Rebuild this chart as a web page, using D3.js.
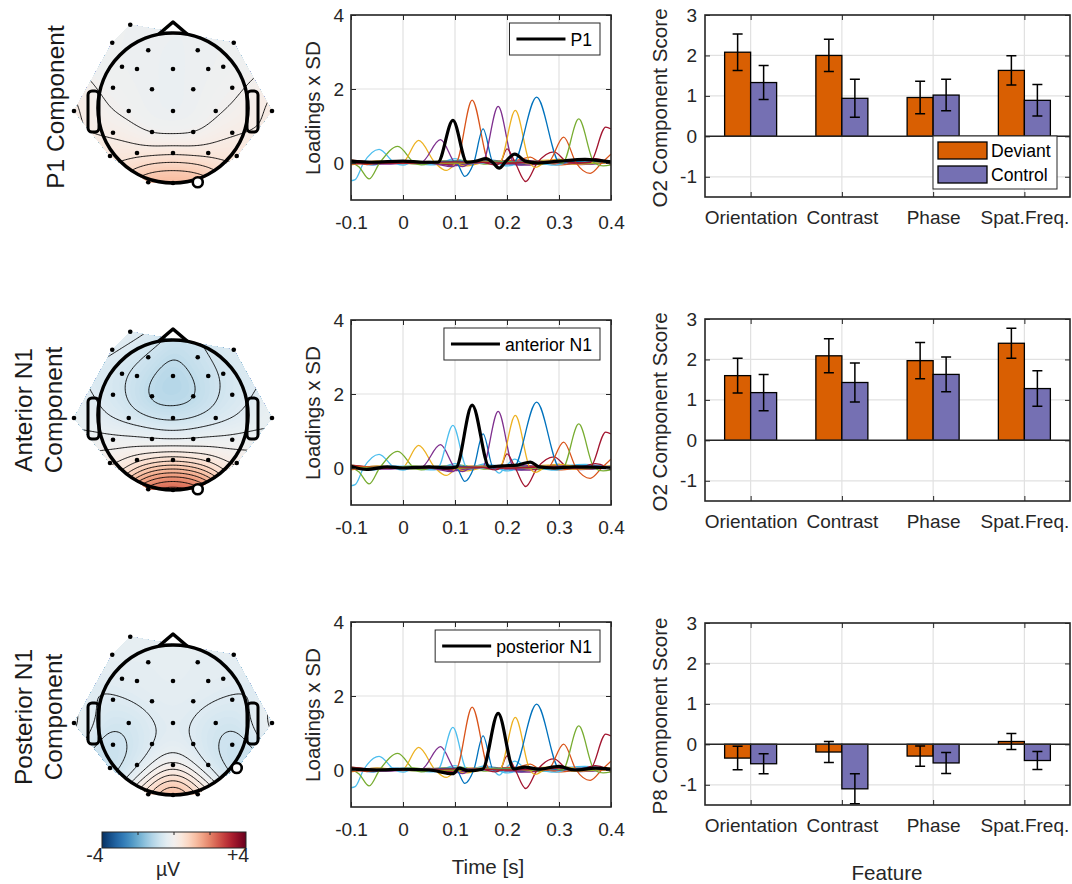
<!DOCTYPE html>
<html>
<head>
<meta charset="utf-8">
<script src="https://cdn.jsdelivr.net/npm/d3@7"></script>
<style>
  body { margin: 0; background: #fff; }
  svg { font-family: "Liberation Sans", Arial, Helvetica, sans-serif; }
</style>
</head>
<body>
<svg id="chart" width="1072" height="884"></svg>
<script>
// ---- axis ticks / labels ----
const timeTicks = [-0.1, 0, 0.1, 0.2, 0.3, 0.4];
const loadingTicks = [0, 2, 4];
const scoreTicks = [-1, 0, 1, 2, 3];
const features = ["Orientation", "Contrast", "Phase", "Spat.Freq."];
const conditions = ["Deviant", "Control"];
const rowTitles = [["P1 Component"], ["Anterior N1", "Component"], ["Posterior N1", "Component"]];
const legendNames = ["P1", "anterior N1", "posterior N1"];
const scoreLabels = ["O2 Component Score", "O2 Component Score", "P8 Component Score"];

// ---- component scores (mean, sem) ----
const devP1 = [2.08, 2.0, 0.96, 1.63];
const devP1Err = [0.45, 0.4, 0.4, 0.36];
const ctlP1 = [1.33, 0.94, 1.02, 0.89];
const ctlP1Err = [0.42, 0.47, 0.39, 0.39];
const devAntN1 = [1.6, 2.09, 1.97, 2.4];
const devAntN1Err = [0.43, 0.42, 0.45, 0.37];
const ctlAntN1 = [1.18, 1.43, 1.63, 1.28];
const ctlAntN1Err = [0.45, 0.48, 0.43, 0.44];
const devPostN1 = [-0.34, -0.19, -0.29, 0.07];
const devPostN1Err = [0.29, 0.26, 0.25, 0.2];
const ctlPostN1 = [-0.48, -1.1, -0.46, -0.4];
const ctlPostN1Err = [0.25, 0.37, 0.26, 0.22];

// ---- temporal loadings [time s, loading x SD] ----
const compCyan1 = [[-0.1,-0.48],[-0.092,-0.45],[-0.076,0],[-0.046,0.37],[-0.016,0],[0,-0.06],[0.02,0.02],[0.06,0],[0.1,0.05],[0.12,0.02],[0.16,0],[0.2,-0.03],[0.25,0.02],[0.3,0],[0.35,0.03],[0.4,0.02]];
const compGreen1 = [[-0.1,0.02],[-0.085,-0.1],[-0.065,-0.43],[-0.045,0],[-0.01,0.45],[0.022,0],[0.035,-0.05],[0.06,0.02],[0.1,0.05],[0.15,0.02],[0.2,0.05],[0.25,0.02],[0.3,0.04],[0.35,0],[0.4,0.02]];
const compYellow1 = [[-0.1,-0.05],[-0.06,0.02],[-0.002,0],[0.03,0.61],[0.062,0],[0.083,-0.2],[0.105,0],[0.13,0.05],[0.17,0.02],[0.2,0.05],[0.25,0],[0.3,0.05],[0.35,0.02],[0.4,0.05]];
const compPurple1 = [[-0.1,0.05],[-0.05,0],[0.035,0.02],[0.072,0.63],[0.1,0],[0.115,-0.1],[0.13,0],[0.16,0.03],[0.2,-0.02],[0.25,0.03],[0.3,0],[0.35,0.05],[0.4,0.02]];
const compP1 = [[-0.1,0.05],[-0.06,0.02],[0,0.05],[0.04,0.02],[0.067,0.02],[0.096,1.15],[0.123,0.02],[0.14,0.05],[0.16,0.12],[0.172,0.02],[0.185,-0.14],[0.198,0.05],[0.215,0.24],[0.235,0.05],[0.26,0],[0.3,0.05],[0.35,0.1],[0.4,0.03]];
const compAntN1 = [[-0.1,0.05],[-0.07,-0.04],[-0.03,0.03],[0,0],[0.05,0.03],[0.085,0],[0.102,0.02],[0.133,1.7],[0.166,0.03],[0.19,0.06],[0.22,0.08],[0.245,0.16],[0.262,0.03],[0.29,0],[0.33,0.03],[0.4,0]];
const compBlue1 = [[-0.1,0.03],[-0.05,0],[0,0.03],[0.05,0],[0.09,0.03],[0.103,0],[0.119,-0.36],[0.136,0],[0.154,0.92],[0.174,0],[0.19,0.05],[0.22,0.02],[0.26,0.05],[0.3,0.02],[0.35,0.04],[0.4,0.03]];
const compPostN1 = [[-0.1,0.03],[-0.05,0],[0,0.02],[0.05,0],[0.096,-0.1],[0.108,0.05],[0.125,-0.02],[0.153,0.02],[0.183,1.53],[0.213,0.03],[0.235,0.08],[0.26,0.02],[0.3,0.1],[0.33,0],[0.37,0.05],[0.4,0.02]];
const compRed1 = [[-0.1,0.08],[-0.05,0.02],[0,0],[0.05,0.03],[0.1,0],[0.15,0.02],[0.178,-0.05],[0.187,0],[0.2,0.38],[0.216,0],[0.236,-0.5],[0.258,0],[0.29,0.3],[0.32,0],[0.35,0.05],[0.37,0.12],[0.39,0.04],[0.4,-0.05]];
const compYellow2 = [[-0.1,0],[0,0.03],[0.1,0],[0.15,0.05],[0.186,0.02],[0.216,1.42],[0.244,0],[0.255,-0.12],[0.275,0.04],[0.3,0.1],[0.33,0.05],[0.4,0]];
const compBlue2 = [[-0.1,0],[0,0.02],[0.1,0.05],[0.15,0.02],[0.19,0.03],[0.212,0],[0.257,1.78],[0.302,0],[0.32,0.03],[0.35,0.05],[0.4,0]];
const compOrange2 = [[-0.1,0.05],[-0.05,0.02],[0,0],[0.05,0.02],[0.1,0],[0.15,0.03],[0.2,0],[0.25,0.03],[0.278,0],[0.309,0.7],[0.333,0],[0.36,-0.28],[0.382,0],[0.4,0.24]];
const compGreen2 = [[-0.1,0],[0,0.03],[0.1,0],[0.2,0.03],[0.25,0],[0.29,0.05],[0.307,0],[0.338,1.19],[0.368,0],[0.385,-0.08],[0.4,-0.05]];
const compRed2 = [[-0.1,-0.02],[0,0],[0.1,0.03],[0.2,0],[0.25,0.02],[0.3,0.05],[0.34,0],[0.36,0.02],[0.39,0.97],[0.4,0.92]];
const compNoise1 = [[-0.1,0.05],[-0.06,-0.05],[-0.02,0.05],[0.03,-0.03],[0.08,0.05],[0.12,-0.05],[0.17,0.08],[0.22,-0.05],[0.27,0.05],[0.32,-0.03],[0.37,0.06],[0.4,0]];
const compNoise2 = [[-0.1,-0.02],[-0.05,0.05],[0,-0.02],[0.05,0.04],[0.1,-0.06],[0.15,0.04],[0.2,-0.04],[0.25,0.06],[0.3,-0.05],[0.35,0.03],[0.4,0.05]];
const compNoise3 = [[-0.1,0.08],[-0.04,0],[0.02,0.06],[0.07,-0.04],[0.11,0.08],[0.16,-0.03],[0.21,0.06],[0.26,-0.04],[0.31,0.04],[0.36,-0.02],[0.4,0.06]];
const compNoise4 = [[-0.1,0],[-0.05,0.04],[0,0],[0.06,-0.05],[0.1,0.12],[0.13,-0.03],[0.16,0.1],[0.2,-0.08],[0.24,0.05],[0.29,-0.06],[0.33,0.04],[0.38,0],[0.4,0.06]];
const compNoise5 = [[-0.1,0.02],[-0.03,-0.03],[0.04,0.03],[0.1,-0.07],[0.14,0.04],[0.19,0],[0.24,-0.06],[0.28,0.03],[0.34,-0.04],[0.4,0.02]];
const compNoise6 = [[-0.1,0.05],[-0.04,0],[0.03,0.03],[0.09,-0.03],[0.14,0.05],[0.19,0.02],[0.25,-0.02],[0.32,0.05],[0.4,0]];
const compNoise7 = [[-0.1,-0.03],[-0.05,0.05],[0.02,-0.02],[0.08,0.06],[0.12,-0.08],[0.17,0.05],[0.22,0],[0.28,0.08],[0.33,-0.03],[0.4,0.04]];

const components = [compNoise1, compNoise2, compNoise3, compNoise4, compNoise5, compNoise6, compNoise7,
  compCyan1, compGreen1, compYellow1, compPurple1, compP1, compAntN1, compBlue1, compPostN1,
  compRed1, compYellow2, compBlue2, compOrange2, compGreen2, compRed2];
const highlighted = [compP1, compAntN1, compPostN1];

// ---- electrode montage (head radius units) and map values (µV) ----
const electrodes = [[-0.57,-1.11],[-0.81,-0.87],[0.81,-0.87],[-0.33,-0.77],[0.33,-0.77],
  [-0.68,-0.55],[-0.48,-0.52],[0,-0.52],[0.47,-0.52],[0.67,-0.55],
  [-0.8,-0.27],[-0.28,-0.25],[0.27,-0.25],[0.79,-0.27],
  [-1.32,0.04],[-0.59,0.04],[0,0.04],[0.57,0.04],[1.32,0.04],
  [-0.8,0.33],[-0.28,0.32],[0.27,0.32],[0.79,0.33],
  [-0.84,0.64],[-0.48,0.6],[0,0.6],[0.47,0.6],[0.85,0.64],
  [-0.33,0.99],[0.33,0.99],[0,1.0]];
const mapP1 = [-0.15,-0.12,-0.12,-0.2,-0.2,-0.15,-0.2,-0.22,-0.2,-0.12,-0.02,-0.2,-0.2,0.02,0.3,-0.1,-0.25,-0.05,0.3,0.12,-0.25,-0.25,0.15,0.55,0.45,0.4,0.45,0.55,1.4,1.4,1.5];
const mapAntN1 = [-0.3,-0.35,-0.4,-0.75,-0.75,-0.6,-1.0,-1.3,-1.0,-0.6,-0.55,-1.25,-1.2,-0.55,-0.25,-0.65,-0.9,-0.65,-0.25,-0.3,-0.4,-0.4,-0.3,0.3,0.45,0.45,0.45,0.3,2.5,2.5,3.0];
const mapPostN1 = [-0.3,-0.3,-0.3,-0.35,-0.35,-0.4,-0.35,-0.3,-0.35,-0.4,-0.6,-0.4,-0.4,-0.6,-0.15,-0.75,-0.4,-0.75,-0.15,-0.9,-0.55,-0.55,-0.9,-0.9,-0.75,0.05,-0.75,-0.9,0.6,0.6,2.3];
const maps = [mapP1, mapAntN1, mapPostN1];
const markedElectrode = [29, 29, 27]; // O2, O2, P8

// ---- styling ----
const axisColor = "#262626";
const gridColor = "#e1e1e1";
const componentColors = ["#0072bd", "#d95319", "#77ac30", "#4dbeee", "#7e2f8e", "#a2142f", "#edb120",
  "#4dbeee", "#77ac30", "#edb120", "#7e2f8e", "#4dbeee", "#d95319", "#0072bd", "#7e2f8e",
  "#a2142f", "#edb120", "#0072bd", "#d95319", "#77ac30", "#a2142f"];
const condColors = ["#d95f02", "#7570b3"];
const tickFont = 19, labelFont = 20.6, legendFont = 17.6, titleFont = 24.5;

const svg = d3.select("#chart");
const lineTops = [15, 320, 622];
const barTops = [15, 319, 623];
const headY = [108, 415, 720];
const titleY = [107, 410, 717];
const headX = 173, R = 75;

const topoColor = v => d3.interpolateRdBu(0.5 - v / 8);

function styleAxis(g, labels) {
  g.select(".domain").remove();
  g.selectAll(".tick line").attr("stroke", axisColor).attr("stroke-width", 1);
  g.selectAll(".tick text").attr("fill", axisColor).attr("font-size", tickFont)
    .attr("font-family", null);
  if (!labels) g.selectAll(".tick text").remove();
}

// ================= topographic maps =================
const n = 150, ext = 1.5, sigma = 0.25;
function interpolateField(vals) {
  const grid = new Float64Array(n * n);
  for (let j = 0; j < n; j++) {
    for (let i = 0; i < n; i++) {
      const px = -ext + (i + 0.5) * 2 * ext / n;
      const py = -ext + (j + 0.5) * 2 * ext / n;
      let sw = 0, sv = 0;
      electrodes.forEach((e, k) => {
        const d2 = (px - e[0]) ** 2 + (py - e[1]) ** 2;
        const w = Math.exp(-d2 / (2 * sigma * sigma));
        sw += w; sv += w * vals[k];
      });
      grid[j * n + i] = sv / sw;
    }
  }
  return grid;
}

const hull = d3.polygonHull(electrodes.map(e => [e[0] * R, e[1] * R]));
const fillLevels = d3.range(-80, 81).map(i => i / 20);
const lineLevels = d3.range(-12, 13).map(i => i / 4);
const gridPath = d3.geoPath(d3.geoIdentity().scale(2 * ext * R / n).translate([-ext * R, -ext * R]));

maps.forEach((vals, row) => {
  const g = svg.append("g").attr("transform", `translate(${headX},${headY[row]})`);
  const clipId = "hull" + row;
  g.append("clipPath").attr("id", clipId)
    .append("path").attr("d", "M" + hull.join("L") + "Z");

  const field = interpolateField(vals);
  const shade = g.append("g").attr("clip-path", `url(#${clipId})`);
  shade.append("rect").attr("x", -ext * R).attr("y", -ext * R)
    .attr("width", 2 * ext * R).attr("height", 2 * ext * R)
    .attr("fill", topoColor(d3.min(field)));
  shade.selectAll("path.band")
    .data(d3.contours().size([n, n]).thresholds(fillLevels)(field))
    .join("path").attr("class", "band")
    .attr("d", gridPath)
    .attr("fill", d => topoColor(d.value + 0.025));
  shade.selectAll("path.iso")
    .data(d3.contours().size([n, n]).thresholds(lineLevels)(field))
    .join("path").attr("class", "iso")
    .attr("d", gridPath)
    .attr("fill", "none").attr("stroke", "#000").attr("stroke-width", 0.9);

  // electrodes
  g.selectAll("circle.el").data(electrodes.filter((e, k) => k !== markedElectrode[row]))
    .join("circle").attr("class", "el")
    .attr("cx", d => d[0] * R).attr("cy", d => d[1] * R).attr("r", 2.3)
    .attr("fill", "#000");

  // head outline
  g.append("circle").attr("r", R).attr("fill", "none").attr("stroke", "#000").attr("stroke-width", 3.6);
  g.append("path").attr("d", `M${-14},${-74}L0,${-86}L14,${-74}`)
    .attr("fill", "none").attr("stroke", "#000").attr("stroke-width", 3.6).attr("stroke-linejoin", "round");
  [-1, 1].forEach(s => {
    g.append("rect").attr("x", s < 0 ? -85 : 74).attr("y", -17).attr("width", 11).attr("height", 41)
      .attr("rx", 4).attr("fill", "none").attr("stroke", "#000").attr("stroke-width", 3);
  });

  const m = electrodes[markedElectrode[row]];
  g.append("circle").attr("cx", m[0] * R).attr("cy", m[1] * R).attr("r", 5)
    .attr("fill", "#fff").attr("stroke", "#000").attr("stroke-width", 2.6);

  // row title
  rowTitles[row].forEach((t, li) => {
    const xPos = rowTitles[row].length === 1 ? 55 : [23, 53][li];
    svg.append("text")
      .attr("transform", `translate(${xPos},${titleY[row]}) rotate(-90)`)
      .attr("text-anchor", "middle").attr("dy", "0.35em")
      .attr("font-size", titleFont).attr("fill", "#1a1a1a").text(t);
  });
});

// colorbar
const cbX = 102, cbY = 832, cbW = 144, cbH = 16;
const grad = svg.append("defs").append("linearGradient").attr("id", "cbgrad");
grad.selectAll("stop").data(d3.range(0, 1.0001, 0.05)).join("stop")
  .attr("offset", d => d).attr("stop-color", d => topoColor(-4 + 8 * d));
svg.append("rect").attr("x", cbX).attr("y", cbY).attr("width", cbW).attr("height", cbH)
  .attr("fill", "url(#cbgrad)").attr("stroke", axisColor).attr("stroke-width", 1);
const cbScale = d3.scaleLinear().domain([-4, 4]).range([cbX, cbX + cbW]);
[-2, 0, 2].forEach(v => {
  svg.append("line").attr("x1", cbScale(v)).attr("x2", cbScale(v))
    .attr("y1", cbY).attr("y2", cbY + 3).attr("stroke", axisColor);
});
svg.append("text").attr("x", 95).attr("y", 862).attr("text-anchor", "middle")
  .attr("font-size", 19.5).attr("fill", axisColor).text("-4");
svg.append("text").attr("x", 238).attr("y", 862).attr("text-anchor", "middle")
  .attr("font-size", 19.5).attr("fill", axisColor).text("+4");
svg.append("text").attr("x", 168).attr("y", 876).attr("text-anchor", "middle")
  .attr("font-size", 19.5).attr("fill", axisColor).text("µV");

// ================= temporal loadings =================
lineTops.forEach((top, row) => {
  const x = d3.scaleLinear().domain([-0.1, 0.4]).range([351, 611]);
  const y = d3.scaleLinear().domain([-1, 4]).range([top + 185, top]);
  const g = svg.append("g");
  const [x0, x1] = x.range(), [y1, y0] = y.range();

  g.append("rect").attr("x", x0).attr("y", y0).attr("width", x1 - x0).attr("height", y1 - y0).attr("fill", "#fff");
  g.selectAll("line.vg").data(timeTicks).join("line").attr("class", "vg")
    .attr("x1", d => x(d)).attr("x2", d => x(d)).attr("y1", y0).attr("y2", y1)
    .attr("stroke", gridColor).attr("stroke-width", 1.2);
  g.selectAll("line.hg").data(loadingTicks).join("line").attr("class", "hg")
    .attr("x1", x0).attr("x2", x1).attr("y1", d => y(d)).attr("y2", d => y(d))
    .attr("stroke", gridColor).attr("stroke-width", 1.2);

  const clipId = "lclip" + row;
  g.append("clipPath").attr("id", clipId).append("rect")
    .attr("x", x0).attr("y", y0).attr("width", x1 - x0).attr("height", y1 - y0);
  const line = d3.line().x(d => x(d[0])).y(d => y(d[1])).curve(d3.curveMonotoneX);
  const traces = g.append("g").attr("clip-path", `url(#${clipId})`);
  components.forEach((c, k) => {
    if (c === highlighted[row]) return;
    traces.append("path").attr("d", line(c)).attr("fill", "none")
      .attr("stroke", componentColors[k]).attr("stroke-width", 1.3);
  });
  traces.append("path").attr("d", line(highlighted[row])).attr("fill", "none")
    .attr("stroke", "#000").attr("stroke-width", 3.2).attr("stroke-linejoin", "round");

  g.append("g").attr("transform", `translate(0,${y1})`)
    .call(d3.axisBottom(x).tickValues(timeTicks).tickFormat(d => String(d))
      .tickSizeInner(-5).tickSizeOuter(0).tickPadding(16))
    .call(a => styleAxis(a, true));
  g.append("g").attr("transform", `translate(0,${y0})`)
    .call(d3.axisTop(x).tickValues(timeTicks).tickSizeInner(-5).tickSizeOuter(0))
    .call(a => styleAxis(a, false));
  g.append("g").attr("transform", `translate(${x0},0)`)
    .call(d3.axisLeft(y).tickValues(loadingTicks).tickFormat(d => String(d))
      .tickSizeInner(-5).tickSizeOuter(0).tickPadding(7))
    .call(a => styleAxis(a, true));
  g.append("g").attr("transform", `translate(${x1},0)`)
    .call(d3.axisRight(y).tickValues(loadingTicks).tickSizeInner(-5).tickSizeOuter(0))
    .call(a => styleAxis(a, false));
  g.append("rect").attr("x", x0).attr("y", y0).attr("width", x1 - x0).attr("height", y1 - y0)
    .attr("fill", "none").attr("stroke", axisColor).attr("stroke-width", 1.6);

  g.append("text").attr("transform", `translate(313,${top + 93}) rotate(-90)`)
    .attr("text-anchor", "middle").attr("dy", "0.35em")
    .attr("font-size", labelFont).attr("fill", axisColor).text("Loadings x SD");

  // legend
  const lg = g.append("g");
  const txt = lg.append("text").attr("font-size", legendFont).attr("fill", "#000").text(legendNames[row]);
  const tw = txt.node().getComputedTextLength();
  const bw = 69 + tw, bx = x1 - 11 - bw, by = y0 + 8, bh = 32;
  lg.insert("rect", "text").attr("x", bx).attr("y", by).attr("width", bw).attr("height", bh)
    .attr("fill", "#fff").attr("stroke", axisColor).attr("stroke-width", 1);
  lg.append("line").attr("x1", bx + 7).attr("x2", bx + 56).attr("y1", by + bh / 2).attr("y2", by + bh / 2)
    .attr("stroke", "#000").attr("stroke-width", 3.2);
  txt.attr("x", bx + 61).attr("y", by + bh / 2 + 6.5);

  if (row === 2) {
    svg.append("text").attr("x", 488).attr("y", 874).attr("text-anchor", "middle")
      .attr("font-size", labelFont).attr("fill", axisColor).text("Time [s]");
  }
});

// ================= component scores =================
const scoreRows = [
  [[devP1, devP1Err], [ctlP1, ctlP1Err]],
  [[devAntN1, devAntN1Err], [ctlAntN1, ctlAntN1Err]],
  [[devPostN1, devPostN1Err], [ctlPostN1, ctlPostN1Err]]
];

barTops.forEach((top, row) => {
  const x = d3.scaleLinear().domain([0.5, 4.5]).range([705, 1070]);
  const y = d3.scaleLinear().domain([-1.5, 3]).range([top + 182, top]);
  const inner = d3.scaleBand().domain(conditions).range([-26, 26]);
  const g = svg.append("g");
  const [x0, x1] = x.range(), [y1, y0] = y.range();
  const catX = features.map((f, i) => x(i + 1));

  g.append("rect").attr("x", x0).attr("y", y0).attr("width", x1 - x0).attr("height", y1 - y0).attr("fill", "#fff");
  g.selectAll("line.vg").data(catX).join("line").attr("class", "vg")
    .attr("x1", d => d).attr("x2", d => d).attr("y1", y0).attr("y2", y1)
    .attr("stroke", gridColor).attr("stroke-width", 1.2);
  g.selectAll("line.hg").data(scoreTicks).join("line").attr("class", "hg")
    .attr("x1", x0).attr("x2", x1).attr("y1", d => y(d)).attr("y2", d => y(d))
    .attr("stroke", gridColor).attr("stroke-width", 1.2);

  const clipId = "bclip" + row;
  g.append("clipPath").attr("id", clipId).append("rect")
    .attr("x", x0).attr("y", y0).attr("width", x1 - x0).attr("height", y1 - y0);
  const plot = g.append("g").attr("clip-path", `url(#${clipId})`);

  scoreRows[row].forEach(([means, errs], ci) => {
    const cond = conditions[ci];
    plot.selectAll("rect.bar" + ci).data(means).join("rect").attr("class", "bar" + ci)
      .attr("x", (d, i) => catX[i] + inner(cond))
      .attr("y", d => y(Math.max(d, 0)))
      .attr("width", inner.bandwidth())
      .attr("height", d => Math.abs(y(d) - y(0)))
      .attr("fill", condColors[ci]).attr("stroke", "#000").attr("stroke-width", 1.3);
  });
  plot.append("line").attr("x1", x0).attr("x2", x1).attr("y1", y(0)).attr("y2", y(0))
    .attr("stroke", axisColor).attr("stroke-width", 1.5);
  scoreRows[row].forEach(([means, errs], ci) => {
    const cond = conditions[ci];
    means.forEach((m, i) => {
      const cx = catX[i] + inner(cond) + inner.bandwidth() / 2;
      const lo = y(m - errs[i]), hi = y(m + errs[i]);
      plot.append("path")
        .attr("d", `M${cx},${lo}V${hi}M${cx - 5},${hi}H${cx + 5}M${cx - 5},${lo}H${cx + 5}`)
        .attr("fill", "none").attr("stroke", "#000").attr("stroke-width", 1.5);
    });
  });

  g.append("g").attr("transform", `translate(0,${y1})`)
    .call(d3.axisBottom(x).tickValues([1, 2, 3, 4]).tickFormat(d => features[d - 1])
      .tickSizeInner(-5).tickSizeOuter(0).tickPadding(14))
    .call(a => styleAxis(a, true));
  g.append("g").attr("transform", `translate(0,${y0})`)
    .call(d3.axisTop(x).tickValues([1, 2, 3, 4]).tickSizeInner(-5).tickSizeOuter(0))
    .call(a => styleAxis(a, false));
  g.append("g").attr("transform", `translate(${x0},0)`)
    .call(d3.axisLeft(y).tickValues(scoreTicks).tickFormat(d => String(d))
      .tickSizeInner(-5).tickSizeOuter(0).tickPadding(8))
    .call(a => styleAxis(a, true));
  g.append("g").attr("transform", `translate(${x1},0)`)
    .call(d3.axisRight(y).tickValues(scoreTicks).tickSizeInner(-5).tickSizeOuter(0))
    .call(a => styleAxis(a, false));
  g.append("rect").attr("x", x0).attr("y", y0).attr("width", x1 - x0).attr("height", y1 - y0)
    .attr("fill", "none").attr("stroke", axisColor).attr("stroke-width", 1.6);

  g.append("text").attr("transform", `translate(660,${top + 93}) rotate(-90)`)
    .attr("text-anchor", "middle").attr("dy", "0.35em")
    .attr("font-size", labelFont).attr("fill", axisColor).text(scoreLabels[row]);

  if (row === 0) {
    const bw = 124, bh = 53, bx = x1 - 13 - bw, by = y1 - 8 - bh;
    const lg = g.append("g");
    lg.append("rect").attr("x", bx).attr("y", by).attr("width", bw).attr("height", bh)
      .attr("fill", "#fff").attr("stroke", axisColor).attr("stroke-width", 1);
    conditions.forEach((c, ci) => {
      const py = by + 6 + ci * 24;
      lg.append("rect").attr("x", bx + 5).attr("y", py).attr("width", 49).attr("height", 17)
        .attr("fill", condColors[ci]).attr("stroke", "#000").attr("stroke-width", 1.3);
      lg.append("text").attr("x", bx + 58).attr("y", py + 15).attr("font-size", legendFont)
        .attr("fill", "#000").text(c);
    });
  }
  if (row === 2) {
    svg.append("text").attr("x", 887).attr("y", 880).attr("text-anchor", "middle")
      .attr("font-size", labelFont).attr("fill", axisColor).text("Feature");
  }
});
</script>
</body>
</html>
